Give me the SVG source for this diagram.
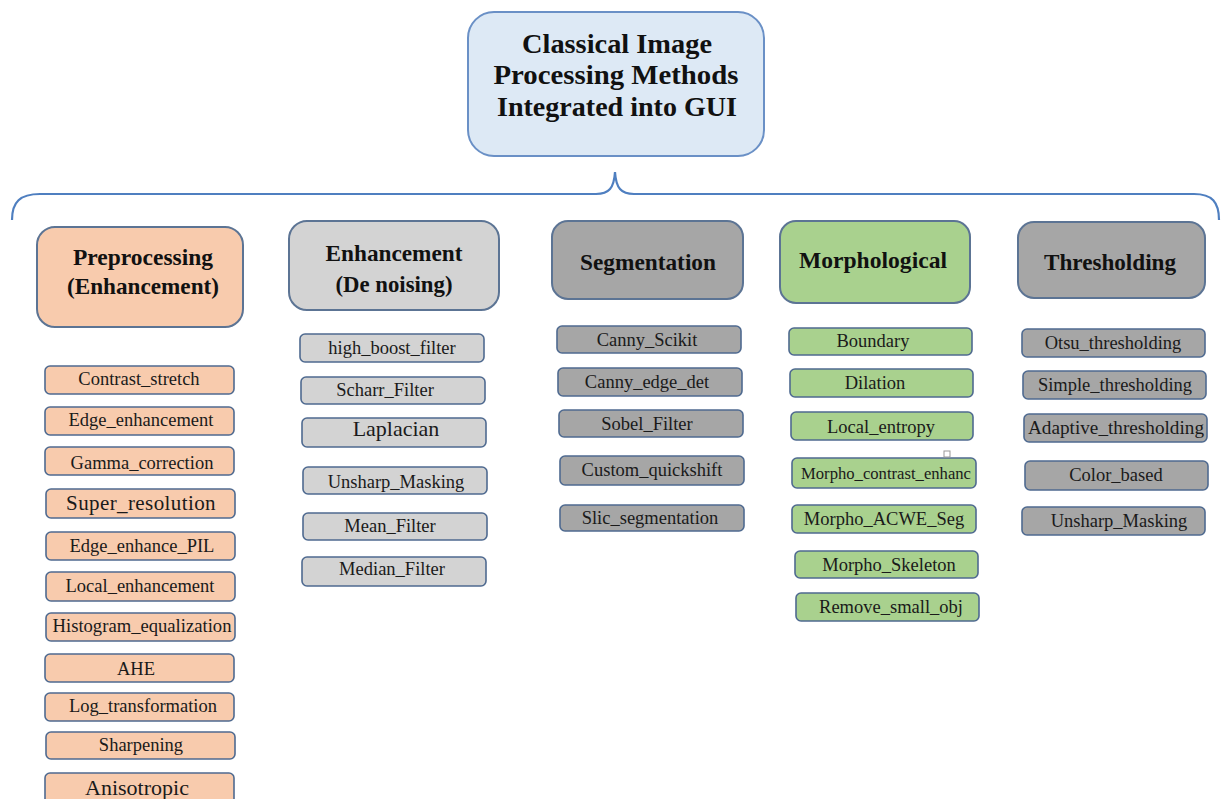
<svg xmlns="http://www.w3.org/2000/svg" width="1222" height="799" viewBox="0 0 1222 799">
  <style>
    .title { fill: #dde9f5; stroke: #6a90c6; stroke-width: 2; }
    .cat { stroke: #5c7494; stroke-width: 2; }
    .item { stroke: #4f6a90; stroke-width: 1.6; }
    .peach { fill: #f8cbad; }
    .lgray { fill: #d3d3d3; }
    .dgray { fill: #a6a6a6; }
    .green { fill: #a9d18e; }
    .ttl { font-family: "Liberation Serif", serif; font-weight: bold; font-size: 27px; fill: #111; text-anchor: middle; }
    .ctxt { font-family: "Liberation Serif", serif; font-weight: bold; font-size: 23px; fill: #111; text-anchor: middle; }
    .itxt { font-family: "Liberation Serif", serif; font-size: 18.5px; fill: #1a1a1a; text-anchor: middle; }
    .big { font-size: 21px; }
    .brace { fill: none; stroke: #4f7fc0; stroke-width: 2.2; }
  </style>

  <rect width="1222" height="799" fill="#ffffff"/>

  <!-- root -->
  <g id="root">
    <rect class="title" x="468" y="12" width="296" height="144" rx="26"/>
    <text class="ttl" x="617" y="53" textLength="190" lengthAdjust="spacingAndGlyphs">Classical Image</text>
    <text class="ttl" x="616" y="84" textLength="245" lengthAdjust="spacingAndGlyphs">Processing Methods</text>
    <text class="ttl" x="617" y="116" textLength="240" lengthAdjust="spacingAndGlyphs">Integrated into GUI</text>
  </g>

  <!-- brace joining the root to the five categories -->
  <g id="connectors">
    <path class="brace" d="M12,220 C12,202 20,194 40,194 L596,194 C609,194 614,188 615,172 C616,188 621,194 634,194 L1194,194 C1212,194 1219,202 1219,220"/>
  </g>

  <!-- category headers -->
  <g id="cat-preprocessing">
    <rect class="cat peach" x="37" y="227" width="206" height="100" rx="18"/>
    <text class="ctxt" x="143" y="265" textLength="140" lengthAdjust="spacingAndGlyphs">Preprocessing</text>
    <text class="ctxt" x="143" y="294" textLength="152" lengthAdjust="spacingAndGlyphs">(Enhancement)</text>
  </g>
  <g id="cat-enhancement">
    <rect class="cat lgray" x="289" y="221" width="210" height="89" rx="18"/>
    <text class="ctxt" x="394" y="261" textLength="137" lengthAdjust="spacingAndGlyphs">Enhancement</text>
    <text class="ctxt" x="394" y="292" textLength="117" lengthAdjust="spacingAndGlyphs">(De noising)</text>
  </g>
  <g id="cat-segmentation">
    <rect class="cat dgray" x="552" y="221" width="191" height="78" rx="16"/>
    <text class="ctxt" x="648" y="270" textLength="136" lengthAdjust="spacingAndGlyphs">Segmentation</text>
  </g>
  <g id="cat-morphological">
    <rect class="cat green" x="780" y="221" width="190" height="82" rx="16"/>
    <text class="ctxt" x="873" y="268" textLength="148" lengthAdjust="spacingAndGlyphs">Morphological</text>
  </g>
  <g id="cat-thresholding">
    <rect class="cat dgray" x="1018" y="222" width="187" height="76" rx="16"/>
    <text class="ctxt" x="1110" y="270" textLength="132" lengthAdjust="spacingAndGlyphs">Thresholding</text>
  </g>

  <!-- preprocessing methods -->
  <g id="pre-items">
    <rect class="item peach" x="45" y="366" width="189" height="28" rx="5"/>
    <text class="itxt" x="139" y="385">Contrast_stretch</text>
    <rect class="item peach" x="45" y="407" width="189" height="28" rx="5"/>
    <text class="itxt" x="141" y="426">Edge_enhancement</text>
    <rect class="item peach" x="45" y="447" width="189" height="28" rx="5"/>
    <text class="itxt" x="142" y="469">Gamma_correction</text>
    <rect class="item peach" x="46" y="489" width="189" height="29" rx="5"/>
    <text class="itxt big" x="141" y="510" letter-spacing="0.4">Super_resolution</text>
    <rect class="item peach" x="46" y="532" width="189" height="28" rx="5"/>
    <text class="itxt" x="142" y="552">Edge_enhance_PIL</text>
    <rect class="item peach" x="46" y="572" width="189" height="29" rx="5"/>
    <text class="itxt" x="140" y="592">Local_enhancement</text>
    <rect class="item peach" x="46" y="613" width="189" height="28" rx="5"/>
    <text class="itxt" x="142" y="632" textLength="179" lengthAdjust="spacingAndGlyphs">Histogram_equalization</text>
    <rect class="item peach" x="45" y="654" width="189" height="28" rx="5"/>
    <text class="itxt" x="136" y="675">AHE</text>
    <rect class="item peach" x="45" y="693" width="189" height="28" rx="5"/>
    <text class="itxt" x="143" y="712">Log_transformation</text>
    <rect class="item peach" x="46" y="732" width="189" height="27" rx="5"/>
    <text class="itxt" x="141" y="751">Sharpening</text>
    <rect class="item peach" x="45" y="773" width="189" height="34" rx="5"/>
    <text class="itxt" x="137" y="795" style="font-size:22px">Anisotropic</text>
  </g>

  <!-- denoising methods -->
  <g id="den-items">
    <rect class="item lgray" x="300" y="334" width="184" height="28" rx="5"/>
    <text class="itxt" x="392" y="354">high_boost_filter</text>
    <rect class="item lgray" x="301" y="377" width="184" height="27" rx="5"/>
    <text class="itxt" x="385" y="396">Scharr_Filter</text>
    <rect class="item lgray" x="302" y="418" width="184" height="29" rx="5"/>
    <text class="itxt" x="396" y="436" style="font-size:22px">Laplacian</text>
    <rect class="item lgray" x="303" y="467" width="184" height="27" rx="5"/>
    <text class="itxt" x="396" y="488">Unsharp_Masking</text>
    <rect class="item lgray" x="303" y="513" width="184" height="27" rx="5"/>
    <text class="itxt" x="390" y="532">Mean_Filter</text>
    <rect class="item lgray" x="302" y="557" width="184" height="29" rx="5"/>
    <text class="itxt" x="392" y="575">Median_Filter</text>
  </g>

  <!-- segmentation methods -->
  <g id="seg-items">
    <rect class="item dgray" x="557" y="326" width="184" height="27" rx="5"/>
    <text class="itxt" x="647" y="346">Canny_Scikit</text>
    <rect class="item dgray" x="558" y="368" width="184" height="28" rx="5"/>
    <text class="itxt" x="647" y="388">Canny_edge_det</text>
    <rect class="item dgray" x="559" y="410" width="184" height="27" rx="5"/>
    <text class="itxt" x="647" y="430">Sobel_Filter</text>
    <rect class="item dgray" x="560" y="456" width="184" height="29" rx="5"/>
    <text class="itxt" x="652" y="476">Custom_quickshift</text>
    <rect class="item dgray" x="560" y="505" width="184" height="26" rx="5"/>
    <text class="itxt" x="650" y="524">Slic_segmentation</text>
  </g>

  <!-- morphological methods -->
  <g id="morph-items">
    <rect class="item green" x="789" y="328" width="183" height="27" rx="5"/>
    <text class="itxt" x="873" y="347">Boundary</text>
    <rect class="item green" x="790" y="369" width="183" height="28" rx="5"/>
    <text class="itxt" x="875" y="389">Dilation</text>
    <rect class="item green" x="791" y="412" width="182" height="28" rx="5"/>
    <text class="itxt" x="881" y="433">Local_entropy</text>
    <rect class="item green" x="792" y="458" width="184" height="30" rx="5"/>
    <text class="itxt" x="886" y="479" textLength="170" lengthAdjust="spacingAndGlyphs" style="font-size:16.5px">Morpho_contrast_enhanc</text>
    <rect class="item green" x="792" y="505" width="184" height="28" rx="5"/>
    <text class="itxt" x="884" y="525">Morpho_ACWE_Seg</text>
    <rect class="item green" x="795" y="551" width="183" height="27" rx="5"/>
    <text class="itxt" x="889" y="571">Morpho_Skeleton</text>
    <rect class="item green" x="796" y="593" width="183" height="28" rx="5"/>
    <text class="itxt" x="891" y="613">Remove_small_obj</text>
    <!-- small selection handle left on the canvas -->
    <rect x="944" y="451" width="6" height="6" fill="#ffffff" stroke="#999" stroke-width="1"/>
  </g>

  <!-- thresholding methods -->
  <g id="thr-items">
    <rect class="item dgray" x="1022" y="329" width="183" height="28" rx="5"/>
    <text class="itxt" x="1113" y="349">Otsu_thresholding</text>
    <rect class="item dgray" x="1023" y="371" width="183" height="28" rx="5"/>
    <text class="itxt" x="1115" y="391">Simple_thresholding</text>
    <rect class="item dgray" x="1024" y="414" width="183" height="28" rx="5"/>
    <text class="itxt" x="1116" y="434" textLength="176" lengthAdjust="spacingAndGlyphs">Adaptive_thresholding</text>
    <rect class="item dgray" x="1025" y="461" width="183" height="29" rx="5"/>
    <text class="itxt" x="1116" y="481">Color_based</text>
    <rect class="item dgray" x="1022" y="507" width="183" height="28" rx="5"/>
    <text class="itxt" x="1119" y="527">Unsharp_Masking</text>
  </g>
</svg>
